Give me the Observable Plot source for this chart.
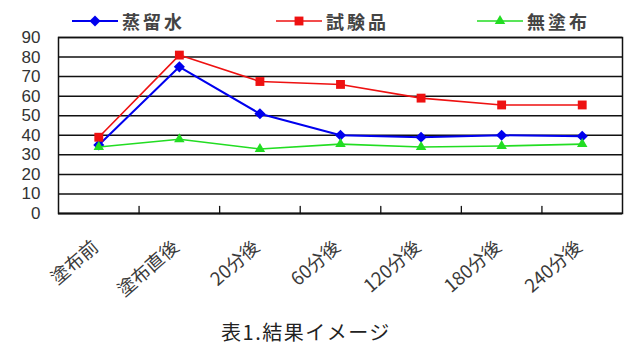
<!DOCTYPE html>
<html><head><meta charset="utf-8">
<script src="https://cdn.jsdelivr.net/npm/d3@7"></script>
<script src="https://cdn.jsdelivr.net/npm/@observablehq/plot@0.6"></script>
<style>
body{margin:0;background:#fff;font-family:"Noto Sans CJK JP","Noto Sans",sans-serif;}
#wrap{position:relative;width:624px;height:352px;overflow:hidden;background:#fff;}
#legend{position:relative;height:26px;}
.item{position:absolute;top:9px;height:24px;display:flex;align-items:center;}
.item span{font-size:18px;letter-spacing:3px;color:#444;font-weight:bold;margin-left:4px;line-height:24px;}
#chart svg{display:block;}
#caption{height:40px;line-height:40px;text-align:center;padding-right:12px;font-size:20px;letter-spacing:1.5px;color:#222;}
</style></head><body>
<div id="wrap"><div id="legend"></div><div id="chart"></div><div id="caption">表1.結果イメージ</div></div>
<script>
// ---- data ----
const categories = ["塗布前", "塗布直後", "20分後", "60分後", "120分後", "180分後", "240分後"];
const seriesNames = ["蒸留水", "試験品", "無塗布"];
const distilledWater = [35, 75, 51, 40, 39, 40, 39.5];
const testProduct = [39, 81, 67.5, 66, 59, 55.5, 55.5];
const uncoated = [34, 38, 33, 35.5, 34, 34.5, 35.5];
const yTicks = [0, 10, 20, 30, 40, 50, 60, 70, 80, 90];

// ---- styles ----
const colors = ["#0000ee", "#ee1111", "#22dd22"];
const symbols = ["diamond2", "square", "triangle2"];
const d3symbols = [d3.symbolDiamond2, d3.symbolSquare, d3.symbolTriangle2];
const strokeWidths = [2, 1.6, 1.6];
const legendLeft = [72, 276, 477];

const seriesValues = [distilledWater, testProduct, uncoated];
const rows = seriesValues.flatMap((vals, s) => vals.map((v, i) => ({series: seriesNames[s], s, i, v})));
const n = categories.length;
const bounds = d3.range(1, n).map(i => i - 0.5);
const tickShape = {draw(context, l) { context.moveTo(0, 0); context.lineTo(0, -l); }};

const lineMarks = seriesNames.flatMap((name, s) => {
  const data = rows.filter(r => r.s === s);
  return [
    Plot.line(data, {x: "i", y: "v", stroke: colors[s], strokeWidth: strokeWidths[s]}),
    Plot.dot(data, {x: "i", y: "v", fill: colors[s], stroke: "none", symbol: () => symbols[s], r: 5})
  ];
});

const chart = Plot.plot({
  width: 624, height: 286,
  marginTop: 11, marginBottom: 99, marginLeft: 58, marginRight: 2,
  x: {domain: [-0.5, n - 0.5], axis: null},
  y: {domain: [0, 90], axis: null},
  symbol: {type: "identity"},
  style: {fontFamily: '"Noto Sans CJK JP","Noto Sans",sans-serif', background: "white", overflow: "visible"},
  marks: [
    Plot.ruleY(yTicks.slice(1), {stroke: "#111", strokeWidth: 1.5}),
    Plot.frame({stroke: "#111", strokeWidth: 1.5}),
    Plot.ruleY([0], {stroke: "#111", strokeWidth: 2}),
    Plot.vector(bounds, {x: d => d, y: () => 0, length: 7, anchor: "start", shape: tickShape, stroke: "#111", strokeWidth: 1.3}),
    Plot.axisY({ticks: yTicks, tickSize: 0, tickPadding: 18, fontSize: 17, fill: "#333", fontFamily: '"Liberation Sans",Arial,sans-serif', label: null}),
    ...lineMarks,
    Plot.text(categories, {x: (d, i) => i, frameAnchor: "bottom", dy: 31, dx: -3, rotate: -41, textAnchor: "end", lineAnchor: "middle", fontSize: 18.5, fill: "#3a3a3a", letterSpacing: "3.5px"})
  ]
});
document.getElementById("chart").appendChild(chart);

// ---- legend ----
const legend = d3.select("#legend");
seriesNames.forEach((name, s) => {
  const item = legend.append("div").attr("class", "item").style("left", legendLeft[s] + "px");
  const svg = item.append("svg").attr("width", 46).attr("height", 14);
  svg.append("line").attr("x1", 0).attr("x2", 46).attr("y1", 7).attr("y2", 7)
    .attr("stroke", colors[s]).attr("stroke-width", strokeWidths[s]);
  svg.append("path").attr("transform", "translate(23,7)")
    .attr("d", d3.symbol(d3symbols[s], Math.PI * 25)()).attr("fill", colors[s]);
  item.append("span").text(name);
});
</script>
</body></html>
